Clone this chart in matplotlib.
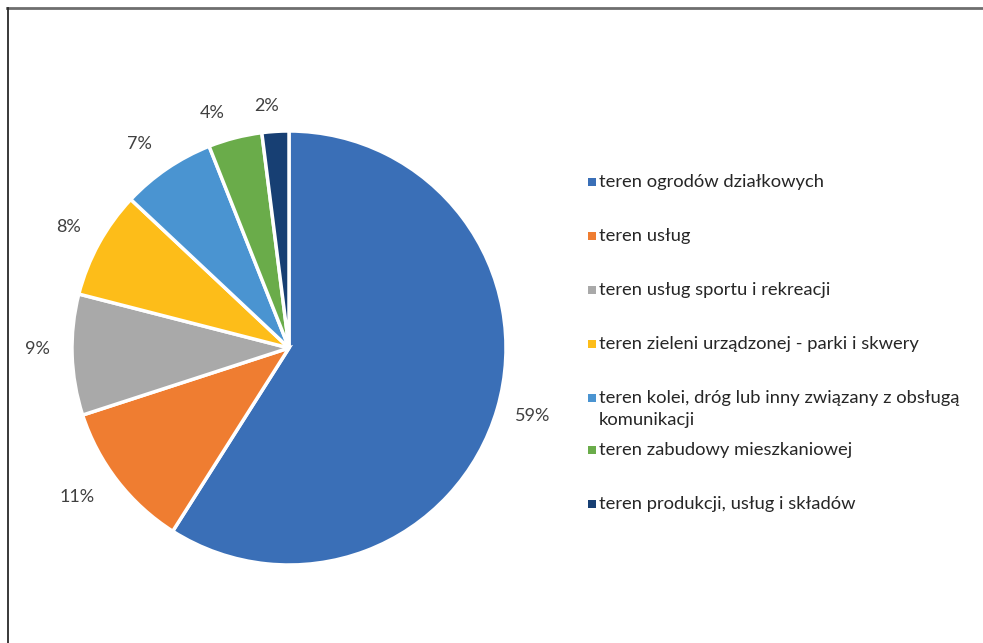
import numpy as np
import matplotlib.pyplot as plt
from matplotlib.patches import Rectangle
from matplotlib.lines import Line2D

plt.rcParams['font.family'] = ['Lato', 'DejaVu Sans']

labels = ['teren ogrodów działkowych',
          'teren usług',
          'teren usług sportu i rekreacji',
          'teren zieleni urządzonej - parki i skwery',
          'teren kolei, dróg lub inny związany z obsługą\nkomunikacji',
          'teren zabudowy mieszkaniowej',
          'teren produkcji, usług i składów']
shares = [59, 11, 9, 8, 7, 4, 2]
colors = ['#3a6fb7', '#ef7d31', '#a9a9a9', '#fdbd19', '#4a94d1', '#6aac4a', '#173f73']
# percent label placement: distance in radii and angle nudge in degrees
label_dist = [1.167, 1.194, 1.161, 1.161, 1.167, 1.14, 1.12]
label_turn = [0.6, -2.7, -1.6, 0.0, 2.1, 3.7, 1.6]

W, H = 983, 643
fig = plt.figure(figsize=(W / 100, H / 100), dpi=100)

# pie centred at (289, 348) px, radius 217 px
r = 217
cx, cy = 289, H - 348
lim = 1.3
ax = fig.add_axes([(cx - lim * r) / W, (cy - lim * r) / H, 2 * lim * r / W, 2 * lim * r / H])
wedges, texts, autotexts = ax.pie(shares, colors=colors, startangle=90, counterclock=False,
                                  autopct='%1.0f%%', pctdistance=1.17,
                                  wedgeprops=dict(edgecolor='white', linewidth=2.5),
                                  textprops=dict(color='#404040', fontsize=13))
for w, t, d, a in zip(wedges, autotexts, label_dist, label_turn):
    mid = np.deg2rad((w.theta1 + w.theta2) / 2 + a)
    t.set_position((d * np.cos(mid), d * np.sin(mid)))
ax.set_xlim(-lim, lim)
ax.set_ylim(-lim, lim)
ax.set_aspect('equal')

# legend drawn by hand so the wrapped entry keeps its marker on the first line
lx, ly0, step, line_h = 593, 182, 54, 22
y = ly0
for lab, col in zip(labels, colors):
    fig.patches.append(Rectangle(((lx - 5) / W, (H - y - 4) / H), 8 / W, 8 / H,
                                 transform=fig.transFigure, facecolor=col, edgecolor='none'))
    rows = lab.split('\n')
    for i, row in enumerate(rows):
        fig.text((lx + 6) / W, (H - y - i * line_h) / H, row, fontsize=13.2, color='#262626',
                 va='center', ha='left')
    y += step if len(rows) == 1 else step - 2

# outer frame: top and left edges
fig.lines.append(Line2D([7 / W, 982 / W], [(H - 8) / H, (H - 8) / H], transform=fig.transFigure,
                        color='#6e6e6e', linewidth=2))
fig.lines.append(Line2D([7.5 / W, 7.5 / W], [0, (H - 8) / H], transform=fig.transFigure,
                        color='#2a2a2a', linewidth=1.3))

fig.savefig('out.png', dpi=100)
